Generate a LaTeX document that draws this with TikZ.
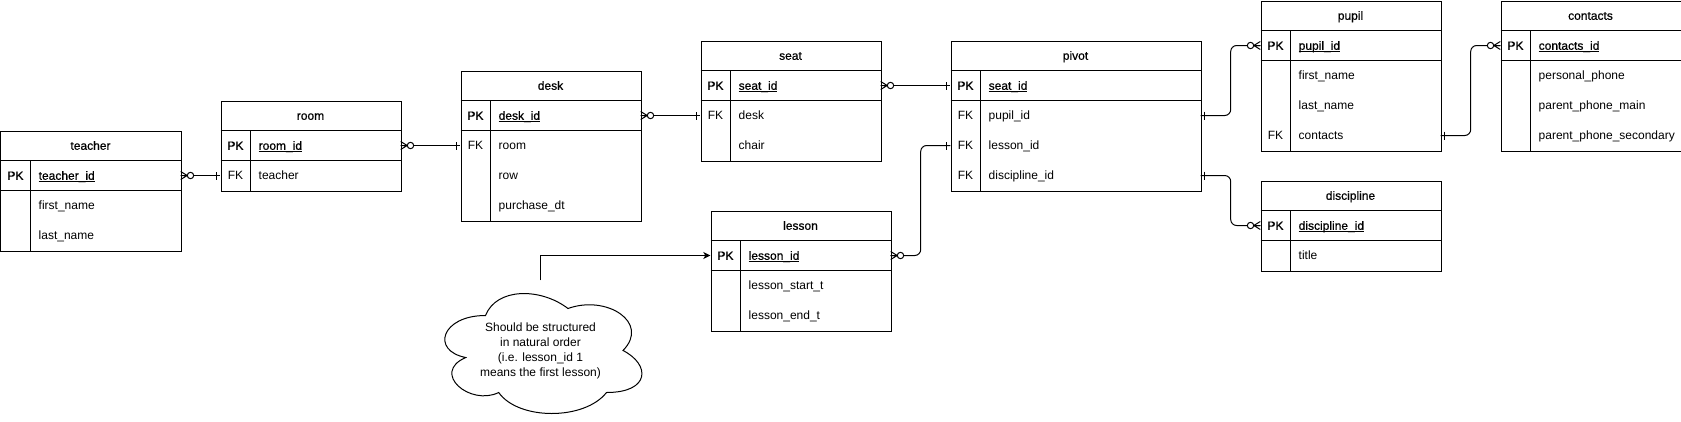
\documentclass[tikz,border=0pt]{standalone}
\usepackage{fontspec}
\setmainfont{Liberation Sans}
\newfontfamily\semib[FakeBold=0.6]{Liberation Sans}
\usetikzlibrary{arrows.meta,calc}
\newcommand\pkname[1]{\setbox0\hbox{\semib #1}\rlap{\rule[-2.3pt]{\wd0}{0.8pt}}\box0}
\tikzset{
  ent/.style={draw, line width=1pt, inner sep=0pt, anchor=north west},
  rowbox/.style={inner sep=0pt, minimum height=30pt},
  txt/.style={inner sep=0pt, font=\fontsize{12pt}{14.4pt}\selectfont, text height=8.6pt, text depth=0pt},
  hdr/.style={txt, font=\fontsize{12pt}{14.4pt}\selectfont\semib},
  keyt/.style={txt},
  fld/.style={txt, anchor=west},
  ln/.style={line width=1pt},
  elbow/.style={ln, rounded corners=6pt},
  zmany/.pic={\draw[line width=1pt] (0,-4) -- (6.5,0) (0,4) -- (6.5,0) (0,0) -- (6.5,0);
              \draw[line width=1pt, fill=white] (9.8,0) circle (3.2pt);},
  onebar/.pic={\draw[line width=1pt] (4,-4) -- (4,4);}
}
% id, x, y, w, nrows, title
\newcommand\ertable[6]{%
  \node[ent, minimum width=#4pt, minimum height={(#5+1)*30pt}] (#1) at (#2,#3) {};
  \node[hdr] (#1-title) at (#2+#4/2,#3+15) {#6};
  \draw[ln] (#2,#3+30) -- ++(#4,0);
  \draw[ln] (#2,#3+60) -- ++(#4,0);
  \draw[ln] (#2+30,#3+30) -- (#2+30,#3+30+30*#5);
}
% id, x, ytop, w, key, field
\newcommand\errow[6]{%
  \node[rowbox, minimum width=#4pt] (#1) at (#2+#4/2,#3+15) {};
  \node[keyt] (#1-key) at (#2+15,#3+15) {#5};
  \node[fld] (#1-name) at (#2+38,#3+15) {#6};
}
\begin{document}
\begin{tikzpicture}[x=1pt,y=-1pt]
\useasboundingbox (-0.5,-0.5) rectangle (1680.5,420.5);

% teacher
\ertable{teacher}{0}{130}{180}{3}{teacher}
\errow{teacher-pk}{0}{160}{180}{\semib PK}{\pkname{teacher\_id}}
\errow{teacher-r2}{0}{190}{180}{}{first\_name}
\errow{teacher-r3}{0}{220}{180}{}{last\_name}

% room
\ertable{room}{220}{100}{180}{2}{room}
\errow{room-pk}{220}{130}{180}{\semib PK}{\pkname{room\_id}}
\errow{room-fk}{220}{160}{180}{FK}{teacher}

% desk
\ertable{desk}{460}{70}{180}{4}{desk}
\errow{desk-pk}{460}{100}{180}{\semib PK}{\pkname{desk\_id}}
\errow{desk-fk}{460}{130}{180}{FK}{room}
\errow{desk-r3}{460}{160}{180}{}{row}
\errow{desk-r4}{460}{190}{180}{}{purchase\_dt}

% seat
\ertable{seat}{700}{40}{180}{3}{seat}
\errow{seat-pk}{700}{70}{180}{\semib PK}{\pkname{seat\_id}}
\errow{seat-fk}{700}{100}{180}{FK}{desk}
\errow{seat-r3}{700}{130}{180}{}{chair}

% lesson
\ertable{lesson}{710}{210}{180}{3}{lesson}
\errow{lesson-pk}{710}{240}{180}{\semib PK}{\pkname{lesson\_id}}
\errow{lesson-r2}{710}{270}{180}{}{lesson\_start\_t}
\errow{lesson-r3}{710}{300}{180}{}{lesson\_end\_t}

% pivot
\ertable{pivot}{950}{40}{250}{4}{pivot}
\errow{pivot-pk}{950}{70}{250}{\semib PK}{\pkname{seat\_id}}
\errow{pivot-fk1}{950}{100}{250}{FK}{pupil\_id}
\errow{pivot-fk2}{950}{130}{250}{FK}{lesson\_id}
\errow{pivot-fk3}{950}{160}{250}{FK}{discipline\_id}

% pupil
\ertable{pupil}{1260}{0}{180}{4}{pupil}
\errow{pupil-pk}{1260}{30}{180}{\semib PK}{\pkname{pupil\_id}}
\errow{pupil-r2}{1260}{60}{180}{}{first\_name}
\errow{pupil-r3}{1260}{90}{180}{}{last\_name}
\errow{pupil-fk}{1260}{120}{180}{FK}{contacts}

% contacts
\ertable{contacts}{1500}{0}{180}{4}{contacts}
\errow{contacts-pk}{1500}{30}{180}{\semib PK}{\pkname{contacts\_id}}
\errow{contacts-r2}{1500}{60}{180}{}{personal\_phone}
\errow{contacts-r3}{1500}{90}{180}{}{parent\_phone\_main}
\errow{contacts-r4}{1500}{120}{180}{}{parent\_phone\_secondary}

% discipline
\ertable{discipline}{1260}{180}{180}{2}{discipline}
\errow{discipline-pk}{1260}{210}{180}{\semib PK}{\pkname{discipline\_id}}
\errow{discipline-r2}{1260}{240}{180}{}{title}

% cloud note
\draw[ln] (485,315)
  .. controls (441,315) and (430,350) .. (465.2,357)
  .. controls (430,372.4) and (469.6,406) .. (498.2,392)
  .. controls (518,420) and (584,420) .. (606,392)
  .. controls (650,392) and (650,364) .. (622.5,350)
  .. controls (650,322) and (606,294) .. (567.5,308)
  .. controls (540,287) and (496,287) .. (485,315) -- cycle;
\node[inner sep=0pt, minimum width=220pt, minimum height=140pt, align=center,
      font=\fontsize{12pt}{15pt}\selectfont] (note) at (540,350)
  {Should be structured\\in natural order\\(i.e. lesson\_id 1\\means the first lesson)};

% connectors
\draw[ln] (teacher-pk.east) -- (room-fk.west);
\draw[ln] (room-pk.east) -- (desk-fk.west);
\draw[ln] (desk-pk.east) -- (seat-fk.west);
\draw[ln] (seat-pk.east) -- (pivot-pk.west);
\draw[elbow] (lesson-pk.east) -- ++(30,0) |- (pivot-fk2.west);
\draw[elbow] (pivot-fk1.east) -- ++(30,0) |- (pupil-pk.west);
\draw[elbow] (pivot-fk3.east) -- ++(30,0) |- (discipline-pk.west);
\draw[elbow] (pupil-fk.east) -- ++(30,0) |- (contacts-pk.west);
\draw[ln, -{Stealth[length=7pt,width=7pt,inset=2pt]}] (note.north) |- (lesson-pk.west);

% end markers
\pic at (teacher-pk.east) {zmany};
\pic[rotate=180] at (room-fk.west) {onebar};
\pic at (room-pk.east) {zmany};
\pic[rotate=180] at (desk-fk.west) {onebar};
\pic at (desk-pk.east) {zmany};
\pic[rotate=180] at (seat-fk.west) {onebar};
\pic at (seat-pk.east) {zmany};
\pic[rotate=180] at (pivot-pk.west) {onebar};
\pic at (lesson-pk.east) {zmany};
\pic[rotate=180] at (pivot-fk2.west) {onebar};
\pic at (pivot-fk1.east) {onebar};
\pic[rotate=180] at (pupil-pk.west) {zmany};
\pic at (pivot-fk3.east) {onebar};
\pic[rotate=180] at (discipline-pk.west) {zmany};
\pic at (pupil-fk.east) {onebar};
\pic[rotate=180] at (contacts-pk.west) {zmany};
\end{tikzpicture}
\end{document}
